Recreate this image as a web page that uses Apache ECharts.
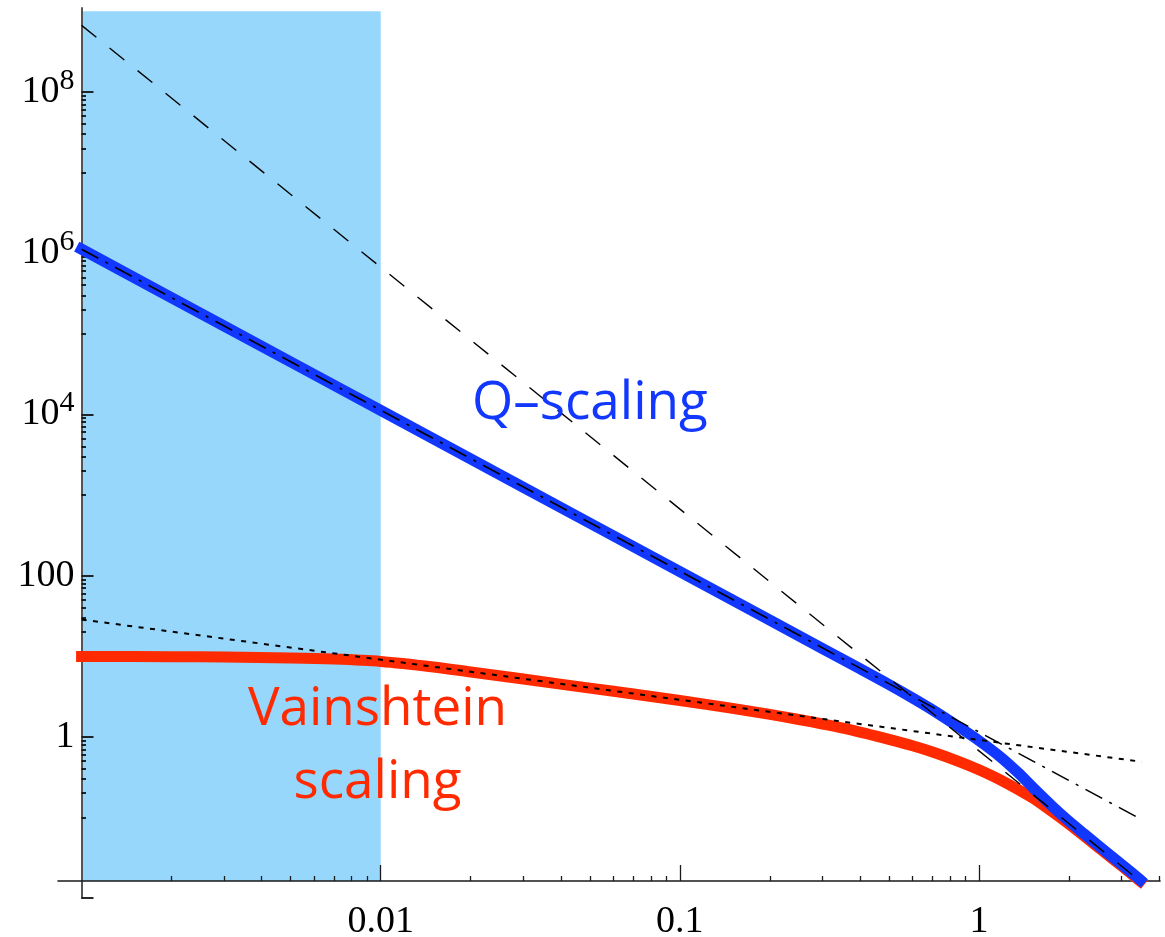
<!DOCTYPE html>
<html>
<head>
<meta charset="utf-8">
<script src="https://cdn.jsdelivr.net/npm/echarts@6/dist/echarts.min.js"></script>
<style>
html,body{margin:0;padding:0;background:#ffffff;}
#chart{width:1165px;height:937px;}
</style>
</head>
<body>
<div id="chart"></div>
<script>
// ---------- data ----------
const xMajorTicks = [0.01, 0.1, 1];
const xTickLabels = ['0.01', '0.1', '1'];
const xMinorTicks = [0.002,0.003,0.004,0.005,0.006,0.007,0.008,0.009,
                     0.02,0.03,0.04,0.05,0.06,0.07,0.08,0.09,
                     0.2,0.3,0.4,0.5,0.6,0.7,0.8,0.9,
                     2,3,4];
const yMajorTicks = [0.01, 1, 100, 1e4, 1e6, 1e8];
const yLabelValues = [1, 100, 1e4, 1e6, 1e8];
const yLabelBase = ['1', '100', '10', '10', '10'];
const yLabelSup = ['', '', '4', '6', '8'];
const yMinorTicks = [9e7,8e7,7e7,6e7,5e7,4e7,3e7,2e7,1e7,
                     9e5,8e5,7e5,6e5,5e5,4e5,3e5,2e5,1e5,
                     9000,8000,7000,6000,5000,4000,3000,2000,1000,
                     90,80,70,60,50,40,30,20,10,
                     0.9,0.8,0.7,0.6,0.5,0.4,0.3,0.2,0.1];

// Q-scaling curve (blue)
const qScalingQ = [0.001,0.003,0.01,0.03,0.1,0.2,0.3,0.4,0.5,0.6,0.7,0.85,1.0,1.18,1.35,1.52,1.75,1.97,2.25,2.54,3.0,3.46];
const qScalingV = [1.12e6,1.244e5,1.12e4,1244,112,28,12.4,7.0,4.46,3.03,2.15,1.35,0.897,0.563,0.36,0.2315,0.1396,0.0939,0.0622,0.043,0.0261,0.0168];

// Vainshtein curve (red)
const vainQ = [0.001,0.002,0.003,0.005,0.007,0.01,0.015,0.02,0.03,0.05,0.07,0.1,0.15,0.2,0.25,0.3,0.37,0.5,0.6,0.7,0.85,1.0,1.2,1.5,1.75,2.0,2.3,2.6,3.0,3.46];
const vainV = [9.9,9.85,9.75,9.5,9.2,8.6,7.35,6.36,5.2,4.02,3.4,2.82,2.25,1.897,1.639,1.442,1.228,0.93,0.775,0.648,0.50,0.39,0.282,0.177,0.119,0.0825,0.0547,0.0381,0.0249,0.0162];

// reference power laws (straight lines in log-log), end points
const dashedRef = [[0.001, 6.7e8], [3.35, 0.0178]];
const dashDotRef = [[0.001, 1.12e6], [3.39, 0.1]];
const dottedRef = [[0.001, 28.5], [3.5, 0.49]];

// shaded band in Q
const bandQ = [0.001, 0.01];

// axis extents
const xRange = [0.000834, 4.03];
const yRange = [0.01, 1.1e9];
const axisCrossY = 0.0162;
const bandTop = 1e9;

// ---------- chart ----------
const zip = (a, b) => a.map((v, i) => [v, b[i]]);
const serif = '"Liberation Serif", "Times New Roman", serif';

const chart = echarts.init(document.getElementById('chart'), null, {renderer: 'canvas'});

function nearestIndex(arr, v) {
  let best = 0, bd = 1e9;
  arr.forEach((t, i) => { const d = Math.abs(Math.log10(v) - Math.log10(t)); if (d < bd) { bd = d; best = i; } });
  return best;
}
function xLabelFmt(v) { return xTickLabels[nearestIndex(xMajorTicks, v)]; }
function yLabelFmt(v) {
  const i = nearestIndex(yLabelValues, v);
  return yLabelSup[i] ? yLabelBase[i] + '{s|' + yLabelSup[i] + '}' : yLabelBase[i];
}

const commonX = {
  type: 'log', logBase: 10, min: xRange[0], max: xRange[1],
  position: 'bottom', offset: -17, z: 3,
  splitLine: {show: false}, minorTick: {show: false}, minorSplitLine: {show: false}
};
const commonY = {
  type: 'log', logBase: 10, min: yRange[0], max: yRange[1],
  position: 'left', offset: -23.5, z: 3,
  splitLine: {show: false}, minorTick: {show: false}, minorSplitLine: {show: false}
};

const option = {
  animation: false,
  backgroundColor: '#ffffff',
  grid: {left: 58, right: 5, top: 8, bottom: 39, containLabel: false, outerBoundsMode: 'none'},
  xAxis: [
    Object.assign({}, commonX, {
      axisLine: {show: true, lineStyle: {color: '#1a1a1a', width: 1.6}},
      axisTick: {show: true, inside: true, length: 16, customValues: xMajorTicks, lineStyle: {color: '#1a1a1a', width: 1.3}},
      axisLabel: {show: true, customValues: xMajorTicks, formatter: xLabelFmt, fontFamily: serif, fontSize: 38, color: '#000', margin: 22}
    }),
    Object.assign({}, commonX, {
      axisLine: {show: false},
      axisTick: {show: true, inside: true, length: 5, customValues: xMinorTicks, lineStyle: {color: '#1a1a1a', width: 1.3}},
      axisLabel: {show: false}
    })
  ],
  yAxis: [
    Object.assign({}, commonY, {
      axisLine: {show: true, lineStyle: {color: '#555555', width: 2}},
      axisTick: {show: true, inside: true, length: 12, customValues: yMajorTicks, lineStyle: {color: '#111', width: 1.8}},
      axisLabel: {show: true, customValues: yLabelValues, formatter: yLabelFmt, margin: 7, align: 'right',
        fontFamily: serif, fontSize: 38, color: '#000',
        rich: {
          s: {fontFamily: serif, fontSize: 30, color: '#000', padding: [0, 0, 22, 0]}
        }}
    }),
    Object.assign({}, commonY, {
      axisLine: {show: false},
      axisTick: {show: true, inside: true, length: 4.5, customValues: yMinorTicks, lineStyle: {color: '#111', width: 1.8}},
      axisLabel: {show: false}
    })
  ],
  series: [
    {
      type: 'line', xAxisIndex: 0, yAxisIndex: 0, z: 1, silent: true,
      data: [[bandQ[0], axisCrossY]], showSymbol: false, lineStyle: {width: 0},
      markArea: {
        silent: true, z: 1,
        itemStyle: {color: '#97d7fc'},
        data: [[{xAxis: bandQ[0], yAxis: axisCrossY}, {xAxis: bandQ[1], yAxis: bandTop}]]
      }
    },
    {
      name: 'Vainshtein', type: 'line', xAxisIndex: 0, yAxisIndex: 0, z: 4,
      data: zip(vainQ, vainV), showSymbol: false, smooth: 0.3,
      lineStyle: {color: '#ff2a00', width: 11, cap: 'square', join: 'round'}
    },
    {
      name: 'Q-scaling', type: 'line', xAxisIndex: 0, yAxisIndex: 0, z: 5,
      data: zip(qScalingQ, qScalingV), showSymbol: false, smooth: 0.3,
      lineStyle: {color: '#1238ff', width: 11, cap: 'square', join: 'round'}
    },
    {
      type: 'line', xAxisIndex: 0, yAxisIndex: 0, z: 6, data: dashedRef, showSymbol: false,
      lineStyle: {color: '#000', width: 1.4, type: [19, 17]}
    },
    {
      type: 'line', xAxisIndex: 0, yAxisIndex: 0, z: 6, data: dashDotRef, showSymbol: false,
      lineStyle: {color: '#000', width: 1.6, type: [19, 8, 3, 8]}
    },
    {
      type: 'line', xAxisIndex: 0, yAxisIndex: 0, z: 6, data: dottedRef, showSymbol: false,
      lineStyle: {color: '#000', width: 2, type: [5, 6.5]}
    }
  ],
  graphic: [
    {type: 'text', x: 472, y: 404, z: 10, silent: true,
      style: {text: 'Q\u2013scaling', font: '500 53px "Open Sans"', fill: '#1238ff', align: 'left', verticalAlign: 'middle'}},
    {type: 'text', x: 377.5, y: 746, z: 10, silent: true,
      style: {text: 'Vainshtein\nscaling', font: '500 53px "Open Sans"', lineHeight: 73, fill: '#ff2a00', align: 'center', verticalAlign: 'middle'}}
  ]
};
chart.setOption(option);
</script>
</body>
</html>
